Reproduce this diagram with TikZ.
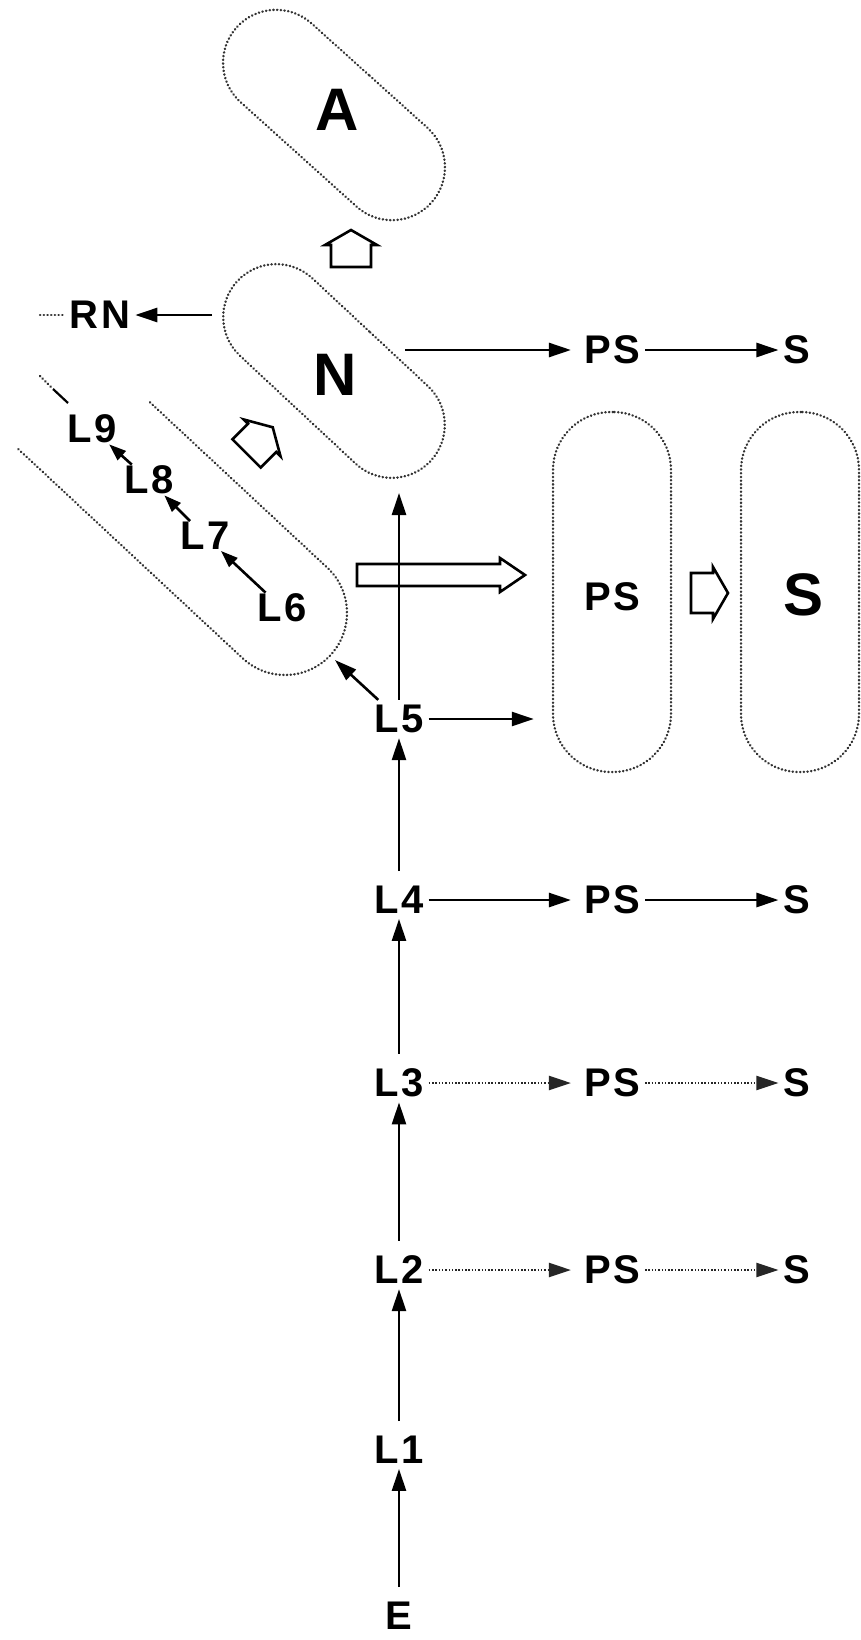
\documentclass[tikz,border=0pt]{standalone}
\usepackage{fontspec}
\setmainfont{Liberation Sans}
\newfontfamily\lblfont[LetterSpace=6]{Liberation Sans}
\usetikzlibrary{arrows.meta,shapes.misc}
\begin{document}
\begin{tikzpicture}[x=1pt,y=-1pt,
  lbl/.style={font=\fontsize{40}{40}\lblfont\bfseries, inner sep=5pt},
  lsm/.style={font=\fontsize{40}{40}\lblfont\bfseries, inner sep=1pt},
  big/.style={font=\fontsize{60}{60}\selectfont\bfseries, inner sep=0pt},
  arr/.style={line width=2.6pt, -{Triangle[length=22pt,width=14pt]}},
  varr/.style={arr, shorten <=10pt},
  sarr/.style={line width=2.6pt, -{Triangle[length=17pt,width=12pt]}},
  darr/.style={line width=2.2pt, draw=black!85, dash pattern=on 1.5pt off 1.8pt, -{Triangle[length=22pt,width=14pt]}},
  dotl/.style={draw=black!80, line width=2.5pt, line cap=round, dash pattern=on 0.3pt off 3.4pt},
  caps/.style={dotl, rounded rectangle, inner sep=0pt},
  vcap/.style={dotl, rectangle, rounded corners=58pt, inner sep=0pt},
  hollow/.style={draw, line width=2.6pt, line join=miter},
  house/.pic={\draw[hollow] (-20,19) -- (-20,-3) -- (-26,-3) -- (0,-18) -- (26,-3) -- (20,-3) -- (20,19) -- cycle;}
]
\useasboundingbox (0,0) rectangle (860,1640);

% capsules
\node[caps, minimum width=262pt, minimum height=106pt, rotate=-42] (Acap) at (334,115) {};
\node[big] (A) at (337,110) {A};
\node[caps, minimum width=264pt, minimum height=106pt, rotate=-43] (Ncap) at (334,371) {};
\node[big] (N) at (335,375) {N};
\node[vcap, minimum width=118pt, minimum height=360pt] (PScap) at (612,592) {};
\node[vcap, minimum width=118pt, minimum height=360pt] (Scap) at (800,592) {};
\node[big] (Sbig) at (803,595) {S};
\node[lbl] (PSbig) at (612,597) {PS};

% open capsule around L6..L9
\begin{scope}[shift={(285,613)}, rotate=-43]
  \draw[dotl] (-242.5,-62) -- (0,-62) -- plot[domain=-90:90, samples=60] ({62*cos(\x)},{62*sin(\x)}) -- (-308.8,62);
\end{scope}
\draw[dotl] (40,376) -- (53,389);
\draw[line width=2.2pt] (53,389) -- (68,403);

% hollow arrows
\pic at (351,248) {house};
\pic[rotate=-45] at (260,440) {house};
\pic[rotate=-90] at (710,593) {house};
\draw[hollow] (357,564) -- (500,564) -- (500,558) -- (525,575) -- (500,592) -- (500,586) -- (357,586) -- cycle;

% labels
\node[lbl] (RN) at (100,315) {RN};
\node[lbl] (PS0) at (612,350) {PS};
\node[lbl] (S0) at (797,350) {S};
\node[lsm] (L9) at (92,429) {L9};
\node[lsm] (L8) at (149,480) {L8};
\node[lsm] (L7) at (205,536) {L7};
\node[lsm] (L6) at (282,608) {L6};
\node[lbl] (L5) at (399,719) {L5};
\node[lbl] (L4) at (399,900) {L4};
\node[lbl] (PS4) at (612,900) {PS};
\node[lbl] (S4) at (797,900) {S};
\node[lbl] (L3) at (399,1083) {L3};
\node[lbl] (PS3) at (612,1083) {PS};
\node[lbl] (S3) at (797,1083) {S};
\node[lbl] (L2) at (399,1270) {L2};
\node[lbl] (PS2) at (612,1270) {PS};
\node[lbl] (S2) at (797,1270) {S};
\node[lbl] (L1) at (399,1450) {L1};
\node[lbl] (E) at (399,1616) {E};

\coordinate (RNs) at (212,315);
\coordinate (Nr) at (405,350);
\coordinate (Nb) at (399,493);
\coordinate (L6c) at (335,660);

% connectors
\draw[dotl] (40,315) -- (RN.west);
\draw[arr] (RNs) -- (RN);
\draw[arr, shorten >=8pt] (Nr) -- (PS0);
\draw[arr] (PS0) -- (S0);
\draw[sarr] (L8) -- (L9);
\draw[sarr] (L7) -- (L8);
\draw[sarr] (L6) -- (L7);
\draw[arr] (L5) -- (L6c);
\draw[arr] (L5) -- (Nb);
\draw[arr, shorten >=18pt] (L5) -- (L5 -| PScap.west);
\draw[varr] (L4) -- (L5);
\draw[arr, shorten >=8pt] (L4) -- (PS4);
\draw[arr] (PS4) -- (S4);
\draw[varr] (L3) -- (L4);
\draw[darr, shorten >=8pt] (L3) -- (PS3);
\draw[darr] (PS3) -- (S3);
\draw[varr] (L2) -- (L3);
\draw[darr, shorten >=8pt] (L2) -- (PS2);
\draw[darr] (PS2) -- (S2);
\draw[varr] (L1) -- (L2);
\draw[varr] (E) -- (L1);
\end{tikzpicture}
\end{document}
